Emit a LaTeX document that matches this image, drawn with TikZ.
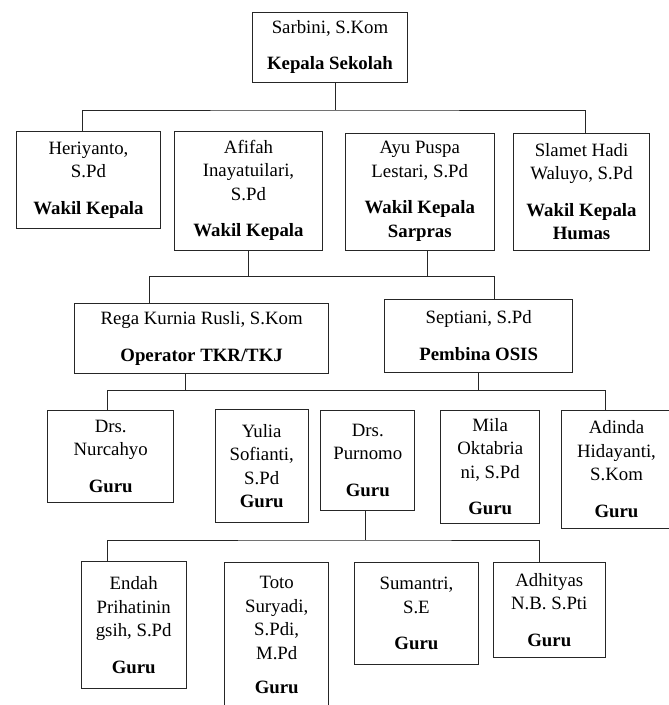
\documentclass[tikz,border=0pt]{standalone}
\usepackage{fontspec}
\setmainfont{Liberation Serif}
\begin{document}
\begin{tikzpicture}[x=1pt,y=-1pt,
  kotak/.style={draw=black!85, line width=1pt, align=center, inner sep=0pt,
    font=\fontsize{18.8}{23.5}\selectfont},
  garis/.style={draw=black!85, line width=1pt}]
  \useasboundingbox (0,0) rectangle (669,705);

  \node[kotak, minimum width=154.8pt, minimum height=69.7pt] (kepsek) at (330,47.2) {Sarbini, S.Kom\\[13pt]\textbf{Kepala Sekolah}};

  \node[kotak, minimum width=144.6pt, minimum height=97.7pt] (waka) at (88.5,179.9) {Heriyanto,\\S.Pd\\[13pt]\textbf{Wakil Kepala}};
  \node[kotak, minimum width=147.2pt, minimum height=119pt] (wakab) at (248.5,190.5) {Afifah\\Inayatuilari,\\S.Pd\\[13pt]\textbf{Wakil Kepala}};
  \node[kotak, minimum width=148.4pt, minimum height=117pt] (sarpras) at (419.8,191.5) {Ayu Puspa\\Lestari, S.Pd\\[13pt]\textbf{Wakil Kepala}\\\textbf{Sarpras}};
  \node[kotak, minimum width=136.5pt, minimum height=117pt] (humas) at (581.5,191.5) {Slamet Hadi\\Waluyo, S.Pd\\[13pt]\textbf{Wakil Kepala}\\\textbf{Humas}};

  \node[kotak, minimum width=253.8pt, minimum height=70pt] (operator) at (201.6,338.3) {Rega Kurnia Rusli, S.Kom\\[13pt]\textbf{Operator TKR/TKJ}};
  \node[kotak, minimum width=187.7pt, minimum height=73.3pt] (osis) at (478.7,335.7) {Septiani, S.Pd\\[13pt]\textbf{Pembina OSIS}};

  \node[kotak, minimum width=125.8pt, minimum height=92.3pt] (nurcahyo) at (110.7,456.2) {Drs.\\Nurcahyo\\[13pt]\textbf{Guru}};
  \node[kotak, minimum width=92.6pt, minimum height=112.7pt] (yulia) at (261.7,466.3) {Yulia\\Sofianti,\\S.Pd\\\textbf{Guru}};
  \node[kotak, minimum width=93.9pt, minimum height=100pt] (purnomo) at (367.8,460) {Drs.\\Purnomo\\[13pt]\textbf{Guru}};
  \node[kotak, minimum width=99pt, minimum height=113.3pt] (mila) at (490.2,466.7) {Mila\\Oktabria\\ni, S.Pd\\[13pt]\textbf{Guru}};
  \node[kotak, minimum width=111pt, minimum height=118.3pt] (adinda) at (616.5,469.2) {Adinda\\Hidayanti,\\S.Kom\\[13pt]\textbf{Guru}};

  \node[kotak, minimum width=105.4pt, minimum height=126.6pt] (endah) at (133.7,625) {Endah\\Prihatinin\\gsih, S.Pd\\[13pt]\textbf{Guru}};
  \node[kotak, minimum width=103.7pt, minimum height=145pt] (toto) at (276.7,635.2) {Toto\\Suryadi,\\S.Pdi,\\M.Pd\\[11pt]\textbf{Guru}};
  \node[kotak, minimum width=124.7pt, minimum height=101.6pt] (sumantri) at (416.4,613.5) {Sumantri,\\S.E\\[13pt]\textbf{Guru}};
  \node[kotak, minimum width=111.4pt, minimum height=94.6pt] (adhityas) at (549.3,610) {Adhityas\\N.B. S.Pti\\[13pt]\textbf{Guru}};

  \coordinate (barA) at (335.7,110);
  \coordinate (barB) at (300,276.7);
  \coordinate (barC) at (300,390.7);
  \coordinate (barD) at (365.6,540);

  \draw[garis] ([xshift=5.7]kepsek.south) -- (barA);
  \draw[garis] ([xshift=-6.5]waka.north) |- (barA) -| ([xshift=3.8]humas.north);

  \draw[garis] (wakab.south) |- (barB);
  \draw[garis] ([xshift=8.1]sarpras.south) |- (barB);
  \draw[garis] ([xshift=-52.3]operator.north) |- (barB) -| ([xshift=15.3]osis.north);

  \draw[garis] ([xshift=-16.6]operator.south) |- (barC);
  \draw[garis] (osis.south) |- (barC);
  \draw[garis] ([xshift=-3.2]nurcahyo.north) |- (barC) -| ([xshift=-11.5]adinda.north);

  \draw[garis] ([xshift=-2.2]purnomo.south) -- (barD);
  \draw[garis] ([xshift=-26.2]endah.north) |- (barD) -| ([xshift=-9.6]adhityas.north);
\end{tikzpicture}
\end{document}
